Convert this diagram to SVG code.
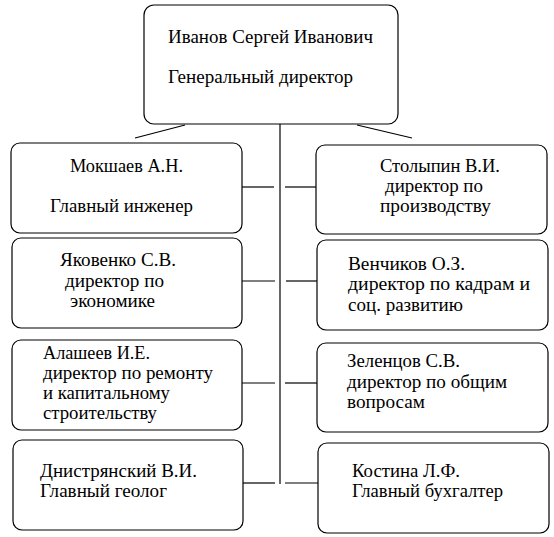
<svg xmlns="http://www.w3.org/2000/svg" width="554" height="537" viewBox="0 0 554 537">
<style>
.box{fill:#fff;stroke:#000;stroke-width:1.2}
.ln{stroke:#000;stroke-width:1.2;fill:none}
.t{font-family:'Liberation Serif',serif;font-size:18.5px;fill:#000}
</style>
<rect width="554" height="537" fill="#fff"/>
<g id="connectors">
<line class="ln" x1="185" y1="125" x2="135" y2="138"/>
<line class="ln" x1="357" y1="125" x2="412" y2="138"/>
<line class="ln" x1="280" y1="124" x2="280" y2="484"/>
<line class="ln" x1="242" y1="187" x2="274" y2="187"/>
<line class="ln" x1="285" y1="187" x2="316" y2="187"/>
<line class="ln" x1="242" y1="281" x2="275" y2="281"/>
<line class="ln" x1="286" y1="281" x2="317" y2="281"/>
<line class="ln" x1="242" y1="383" x2="275" y2="383"/>
<line class="ln" x1="285" y1="383" x2="317" y2="383"/>
<line class="ln" x1="243" y1="483" x2="275" y2="483"/>
<line class="ln" x1="285" y1="483" x2="318" y2="483"/>
</g>
<g id="ceo">
<rect class="box" x="144" y="5" width="254" height="119" rx="10"/>
<text class="t" x="168" y="43" textLength="205" lengthAdjust="spacingAndGlyphs">Иванов Сергей Иванович</text>
<text class="t" x="168" y="83" textLength="185" lengthAdjust="spacingAndGlyphs">Генеральный директор</text>
</g>
<g id="mokshaev">
<rect class="box" x="11" y="143" width="231" height="90" rx="9"/>
<text class="t" x="70" y="172" textLength="113" lengthAdjust="spacingAndGlyphs">Мокшаев А.Н.</text>
<text class="t" x="50" y="212" textLength="143" lengthAdjust="spacingAndGlyphs">Главный инженер</text>
</g>
<g id="yakovenko">
<rect class="box" x="12" y="238" width="230" height="90" rx="9"/>
<text class="t" x="60" y="266" textLength="116" lengthAdjust="spacingAndGlyphs">Яковенко С.В.</text>
<text class="t" x="65" y="287" textLength="99" lengthAdjust="spacingAndGlyphs">директор по</text>
<text class="t" x="70" y="307" textLength="85" lengthAdjust="spacingAndGlyphs">экономике</text>
</g>
<g id="alasheev">
<rect class="box" x="12" y="340" width="230" height="90" rx="9"/>
<text class="t" x="43" y="359" textLength="107" lengthAdjust="spacingAndGlyphs">Алашеев И.Е.</text>
<text class="t" x="43" y="379" textLength="170" lengthAdjust="spacingAndGlyphs">директор по ремонту</text>
<text class="t" x="43" y="399" textLength="127" lengthAdjust="spacingAndGlyphs">и капитальному</text>
<text class="t" x="43" y="419" textLength="114" lengthAdjust="spacingAndGlyphs">строительству</text>
</g>
<g id="dnistryansky">
<rect class="box" x="13" y="440" width="230" height="90" rx="9"/>
<text class="t" x="40" y="477" textLength="157" lengthAdjust="spacingAndGlyphs">Днистрянский В.И.</text>
<text class="t" x="40" y="497" textLength="127" lengthAdjust="spacingAndGlyphs">Главный геолог</text>
</g>
<g id="stolypin">
<rect class="box" x="316" y="145" width="231" height="89" rx="9"/>
<text class="t" x="380" y="172" textLength="120" lengthAdjust="spacingAndGlyphs">Столыпин В.И.</text>
<text class="t" x="385" y="192" textLength="98" lengthAdjust="spacingAndGlyphs">директор по</text>
<text class="t" x="380" y="212" textLength="111" lengthAdjust="spacingAndGlyphs">производству</text>
</g>
<g id="venchikov">
<rect class="box" x="317" y="240" width="231" height="90" rx="9"/>
<text class="t" x="348" y="270" textLength="117" lengthAdjust="spacingAndGlyphs">Венчиков О.З.</text>
<text class="t" x="348" y="290" textLength="182" lengthAdjust="spacingAndGlyphs">директор по кадрам и</text>
<text class="t" x="348" y="311" textLength="115" lengthAdjust="spacingAndGlyphs">соц. развитию</text>
</g>
<g id="zelentsov">
<rect class="box" x="317" y="343" width="231" height="89" rx="9"/>
<text class="t" x="347" y="367" textLength="113" lengthAdjust="spacingAndGlyphs">Зеленцов С.В.</text>
<text class="t" x="347" y="388" textLength="160" lengthAdjust="spacingAndGlyphs">директор по общим</text>
<text class="t" x="347" y="408" textLength="78" lengthAdjust="spacingAndGlyphs">вопросам</text>
</g>
<g id="kostina">
<rect class="box" x="318" y="443" width="231" height="90" rx="9"/>
<text class="t" x="352" y="477" textLength="108" lengthAdjust="spacingAndGlyphs">Костина Л.Ф.</text>
<text class="t" x="352" y="497" textLength="151" lengthAdjust="spacingAndGlyphs">Главный бухгалтер</text>
</g>
</svg>
